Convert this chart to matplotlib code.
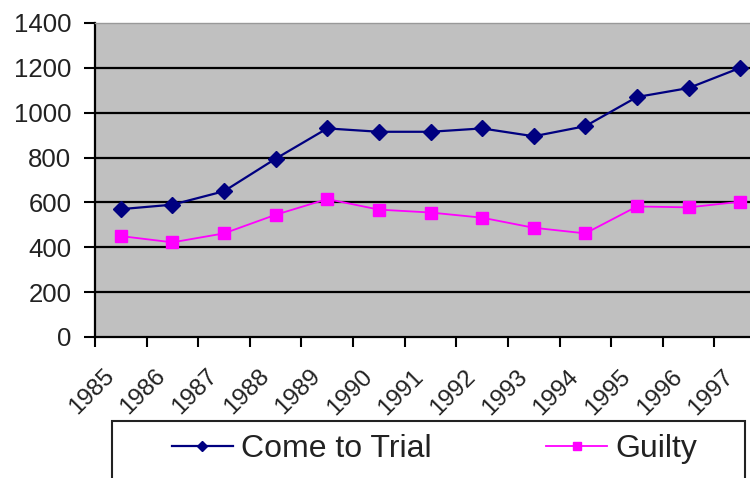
import matplotlib.pyplot as plt
import matplotlib.transforms as mtransforms
from matplotlib.patches import Rectangle
import numpy as np

plt.rcParams['font.family'] = ['Liberation Sans', 'DejaVu Sans']

years = ['1985', '1986', '1987', '1988', '1989', '1990', '1991',
         '1992', '1993', '1994', '1995', '1996', '1997']
come_to_trial = [570, 590, 650, 795, 930, 915, 915, 930, 895, 940, 1070, 1110, 1200]
guilty = [450, 422, 462, 545, 615, 568, 555, 532, 487, 462, 582, 578, 603]

fig = plt.figure(figsize=(7.5, 4.78), dpi=100)
ax = fig.add_axes([95 / 750, 1 - 337 / 478, 671 / 750, 314 / 478])
ax.set_facecolor('#c0c0c0')

x = np.arange(len(years))
ax.plot(x, come_to_trial, color='#000080', lw=1.6, marker='D', ms=8.5,
        label='Come to Trial', zorder=3)
ax.plot(x, guilty, color='#ff00ff', lw=1.3, marker='s', ms=9,
        label='Guilty', zorder=3)

ax.set_xlim(-0.5, len(years) - 0.5)
ax.set_ylim(0, 1400)
ax.set_yticks(np.arange(0, 1401, 200))
for v in range(200, 1400, 200):
    ax.axhline(v, color='black', lw=1.6, zorder=1)

# tick marks between categories, labels at category centres
ax.set_xticks(np.arange(-0.5, len(years)), labels=[''] * (len(years) + 1))
ax.set_xticks(x, labels=years, minor=True)
ax.tick_params(axis='x', which='major', direction='out', length=7, width=1.5)
ax.tick_params(axis='x', which='minor', length=0, pad=26, labelsize=17.5)
ax.tick_params(axis='y', direction='out', length=8, width=1.5, pad=9,
               labelsize=18.5)
shift = mtransforms.ScaledTranslation(-10 / 100, 0, fig.dpi_scale_trans)
for lab in ax.get_xticklabels(minor=True):
    lab.set_rotation(45)
    lab.set_ha('right')
    lab.set_va('center')
    lab.set_rotation_mode('anchor')
    lab.set_color('#222222')
    lab.set_transform(lab.get_transform() + shift)
for lab in ax.get_yticklabels():
    lab.set_color('#222222')

for s in ['left', 'bottom']:
    ax.spines[s].set_linewidth(1.6)
    ax.spines[s].set_color('black')
ax.spines['top'].set_color('#999999')
ax.spines['top'].set_linewidth(1)
ax.spines['right'].set_visible(False)

fig.add_artist(Rectangle((112 / 750, -0.05), 633 / 750, 1 - 421 / 478 + 0.05,
                         transform=fig.transFigure, fill=False,
                         edgecolor='#222222', lw=1.5))
leg = fig.legend(loc='center left', bbox_to_anchor=(172 / 750, 1 - 449 / 478),
                 ncol=2, frameon=False, fontsize=23, handlelength=1.9,
                 handletextpad=0.25, columnspacing=3.6, borderpad=0,
                 borderaxespad=0, markerscale=0.6)
for t in leg.get_texts():
    t.set_color('#222222')

fig.savefig('out.png', dpi=100)
